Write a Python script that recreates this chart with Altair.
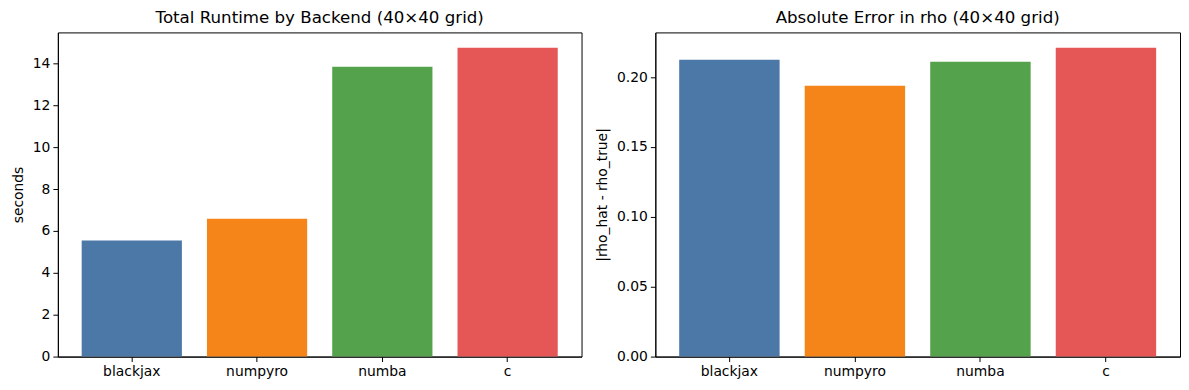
import altair as alt
import pandas as pd

backends = ["blackjax", "numpyro", "numba", "c"]
runtime_seconds = [5.54, 6.58, 13.84, 14.74]
abs_error = [0.2123, 0.1938, 0.2109, 0.2209]
colors = ["#4c78a8", "#f58518", "#54a24b", "#e45756"]
runtime_ticks = [0, 2, 4, 6, 8, 10, 12, 14]
error_ticks = [0.0, 0.05, 0.10, 0.15, 0.20]

df = pd.DataFrame({"backend": backends, "runtime": runtime_seconds, "error": abs_error})

FONT = "DejaVu Sans"

xenc = alt.X(
    "backend:N",
    sort=backends,
    title=None,
    scale=alt.Scale(paddingInner=0.2, paddingOuter=0.19),
    axis=alt.Axis(labelAngle=0, labelPadding=3),
)
cenc = alt.Color("backend:N", scale=alt.Scale(domain=backends, range=colors), legend=None)

left = alt.Chart(df).mark_bar().encode(
    x=xenc,
    y=alt.Y(
        "runtime:Q",
        title="seconds",
        scale=alt.Scale(domain=[0, max(runtime_seconds) * 1.05], nice=False, zero=True),
        axis=alt.Axis(values=runtime_ticks, format="d", titlePadding=7),
    ),
    color=cenc,
).properties(
    width=525,
    height=325,
    title=alt.TitleParams("Total Runtime by Backend (40×40 grid)"),
)

right = alt.Chart(df).mark_bar().encode(
    x=xenc,
    y=alt.Y(
        "error:Q",
        title="|rho_hat - rho_true|",
        scale=alt.Scale(domain=[0, max(abs_error) * 1.05], nice=False, zero=True),
        axis=alt.Axis(values=error_ticks, format=".2f", titlePadding=7),
    ),
    color=cenc,
).properties(
    width=526,
    height=325,
    title=alt.TitleParams("Absolute Error in rho (40×40 grid)"),
)

chart = alt.hconcat(left, right, spacing=74, bounds="flush").properties(
    padding={"left": 2, "top": 0, "right": 0, "bottom": 0},
).configure_view(
    stroke="black", strokeWidth=1
).configure_axis(
    grid=False,
    domainColor="black",
    domainWidth=1,
    tickColor="black",
    tickSize=5,
    tickWidth=1,
    labelColor="black",
    labelFont=FONT,
    labelFontSize=13.9,
    titleFont=FONT,
    titleFontSize=13.9,
    titleFontWeight="normal",
    titleColor="black",
    labelPadding=3,
).configure_title(
    font=FONT, fontSize=16.7, fontWeight="normal", color="black", offset=6, anchor="middle"
)

chart.save("out.html", embed_options={"renderer": "svg", "actions": False})
